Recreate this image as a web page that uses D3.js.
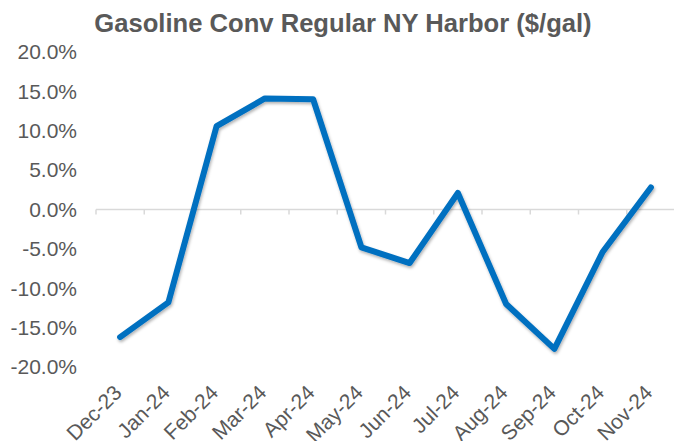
<!DOCTYPE html>
<html>
<head>
    <meta charset="utf-8">
    <title>gasoline</title>
    <script src="https://d3js.org/d3.v7.min.js"></script>
    <style>
        body { margin: 0; background: #fff; }
        text { font-family: "Liberation Sans", Arial, sans-serif; fill: #595959; }
        .title { font-size: 25.6px; font-weight: bold; }
        .tick-label { font-size: 21px; }
        .zero-line { stroke: #d9d9d9; stroke-width: 1.5; }
        .series { fill: none; stroke: #0070c0; stroke-width: 6; stroke-linejoin: round; stroke-linecap: round; }
    </style>
</head>
<body>
<script>

    var months = ["Dec-23", "Jan-24", "Feb-24", "Mar-24", "Apr-24", "May-24",
                  "Jun-24", "Jul-24", "Aug-24", "Sep-24", "Oct-24", "Nov-24"];
    var changes = [-16.2, -11.8, 10.6, 14.1, 14.0, -4.8, -6.8, 2.1, -12.0, -17.7, -5.4, 2.8];
    var yTicks = [20, 15, 10, 5, 0, -5, -10, -15, -20];

    var width = 674,
        height = 441,
        plotLeft = 96,
        plotRight = 675,
        plotTop = 52,
        plotBottom = 367;

    var svg = d3.select("body").append("svg")
        .attr("width", width)
        .attr("height", height);

    var defs = svg.append("defs");
    var shadow = defs.append("filter").attr("id", "shadow")
        .attr("x", "-10%").attr("y", "-10%").attr("width", "120%").attr("height", "120%");
    shadow.append("feDropShadow")
        .attr("dx", 1).attr("dy", 2).attr("stdDeviation", 1.5)
        .attr("flood-color", "#000").attr("flood-opacity", 0.3);

    var x = d3.scaleBand().domain(months).range([plotLeft, plotRight]);
    var y = d3.scaleLinear().domain([-20, 20]).range([plotBottom, plotTop]);

    svg.append("text")
        .attr("class", "title")
        .attr("x", 343)
        .attr("y", 32)
        .attr("text-anchor", "middle")
        .text("Gasoline Conv Regular NY Harbor ($/gal)");

    // y labels, no axis line
    svg.selectAll(".y-label")
        .data(yTicks).enter().append("text")
        .attr("class", "tick-label")
        .attr("x", plotLeft - 19)
        .attr("y", function (d) { return y(d); })
        .attr("dy", "0.35em")
        .attr("text-anchor", "end")
        .text(function (d) { return d.toFixed(1) + "%"; });

    // zero line with ticks between categories
    var zero = svg.append("g");
    zero.append("line")
        .attr("class", "zero-line")
        .attr("x1", plotLeft).attr("x2", plotRight)
        .attr("y1", y(0)).attr("y2", y(0));

    zero.selectAll(".cat-tick")
        .data(d3.range(0, months.length + 1)).enter().append("line")
        .attr("class", "zero-line")
        .attr("x1", function (d) { return plotLeft + d * x.step(); })
        .attr("x2", function (d) { return plotLeft + d * x.step(); })
        .attr("y1", y(0))
        .attr("y2", y(0) + 5);

    // x labels rotated
    svg.selectAll(".x-label")
        .data(months).enter().append("text")
        .attr("class", "tick-label")
        .attr("text-anchor", "end")
        .attr("transform", function (d) {
            return "translate(" + (x(d) + x.bandwidth() / 2 + 3) + "," + 394 + ") rotate(-45)";
        })
        .text(function (d) { return d; });

    var line = d3.line()
        .x(function (d, i) { return x(months[i]) + x.bandwidth() / 2; })
        .y(function (d) { return y(d); });

    svg.append("path")
        .datum(changes)
        .attr("class", "series")
        .attr("filter", "url(#shadow)")
        .attr("d", line);

</script>
</body>
</html>
